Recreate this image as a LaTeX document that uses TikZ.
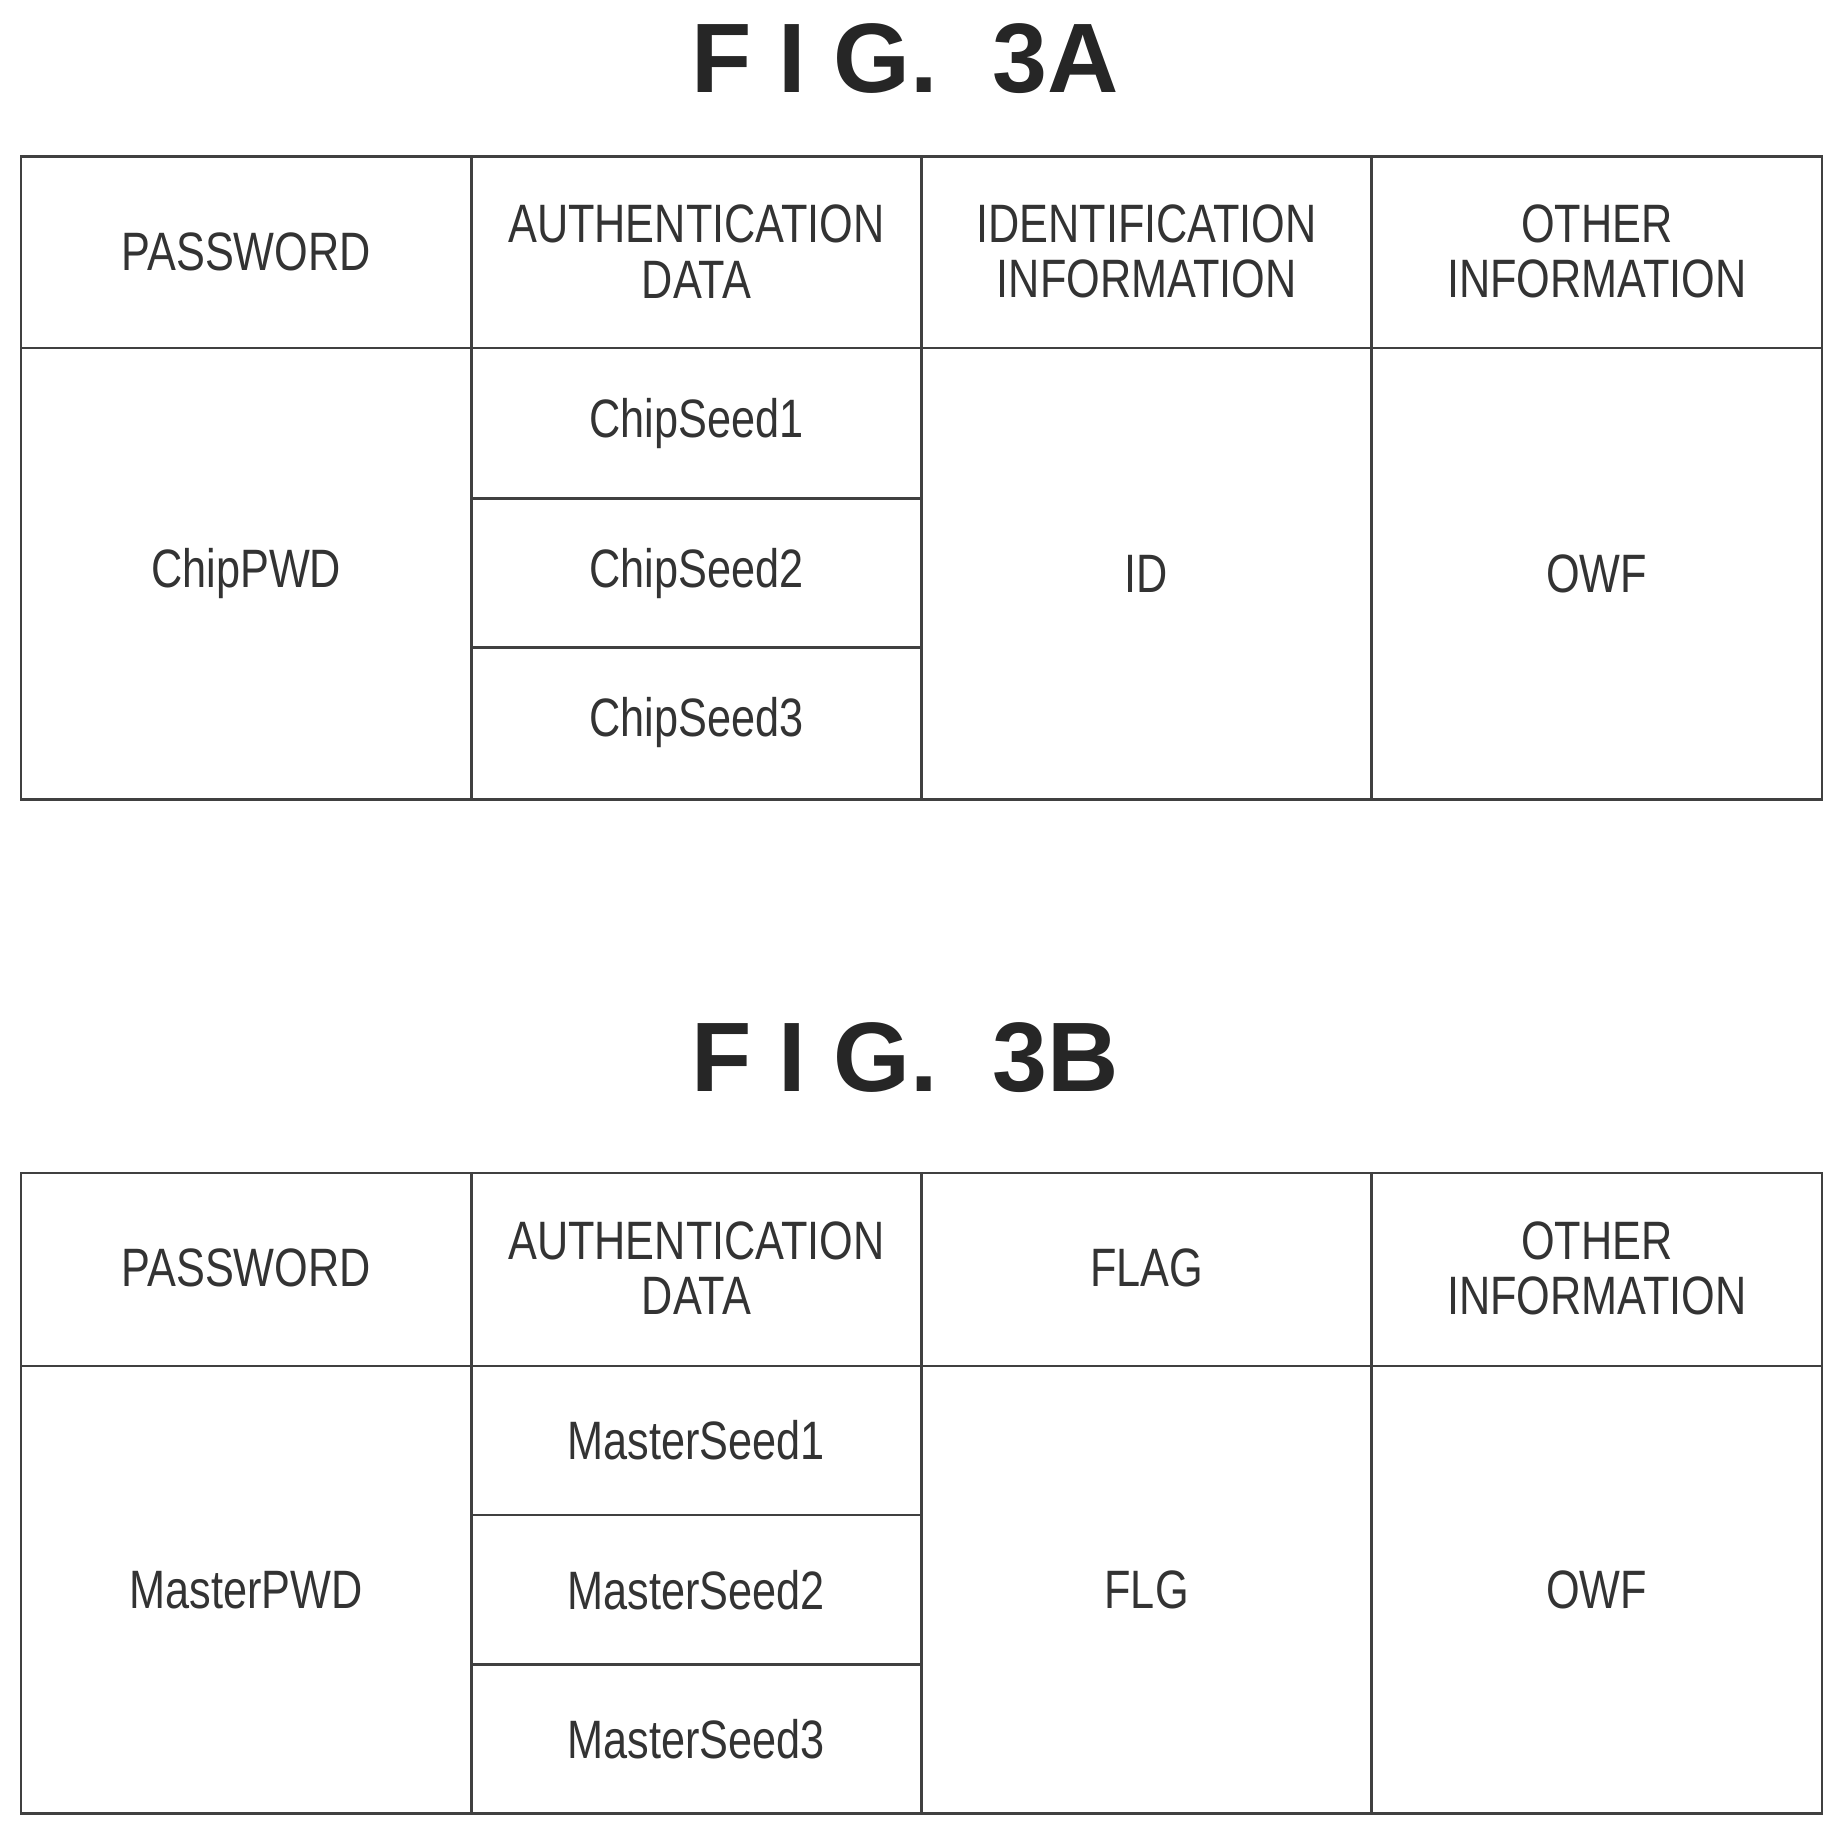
\documentclass[tikz,border=0pt]{standalone}
\usepackage{fontspec}
\setmainfont{Liberation Sans}
\usetikzlibrary{positioning}

\begin{document}
\begin{tikzpicture}[%
		x=1pt, y=-1pt,
		grid/.style={
			draw=black!75,
			line width=2.2pt
		},
		celltext/.style={
			align=center,
			font=\fontsize{46}{47}\selectfont,
			text=black!80,
			xscale=0.8,
			transform shape
		},
		figtitle/.style={
			font=\fontsize{84}{84}\selectfont\bfseries,
			text=black!85
		}]

		\useasboundingbox (0,0) rectangle (1568,1563);

		% FIG. 3A

		\node (titleA) [figtitle] at (770,50) {F I G.\ \ 3A};

		\draw[grid] (18,133) rectangle (1550,680);
		\draw[grid] (18,296) -- (1550,296);
		\draw[grid] (401,133) -- (401,680);
		\draw[grid] (784,133) -- (784,680);
		\draw[grid] (1167,133) -- (1167,680);
		\draw[grid] (401,424) -- (784,424);
		\draw[grid] (401,551) -- (784,551);

		\node (pwdA) [celltext] at (209.5,214) {PASSWORD};
		\node (authA) [celltext] at (592.5,214) {AUTHENTICATION\\DATA};
		\node (identA) [celltext] at (975.5,214) {IDENTIFICATION\\INFORMATION};
		\node (otherA) [celltext] at (1358.5,214) {OTHER\\INFORMATION};

		\node (chippwd) [celltext] at (209.5,488) {ChipPWD};
		\node (seedA1) [celltext] at (592.5,360) {ChipSeed1};
		\node (seedA2) [celltext] at (592.5,488) {ChipSeed2};
		\node (seedA3) [celltext] at (592.5,615) {ChipSeed3};
		\node (id) [celltext] at (975.5,488) {ID};
		\node (owfA) [celltext] at (1358.5,488) {OWF};

		% FIG. 3B

		\node (titleB) [figtitle] at (770,900) {F I G.\ \ 3B};

		\draw[grid] (18,998) rectangle (1550,1543);
		\draw[grid] (18,1162) -- (1550,1162);
		\draw[grid] (401,998) -- (401,1543);
		\draw[grid] (784,998) -- (784,1543);
		\draw[grid] (1167,998) -- (1167,1543);
		\draw[grid] (401,1289) -- (784,1289);
		\draw[grid] (401,1416) -- (784,1416);

		\node (pwdB) [celltext] at (209.5,1079) {PASSWORD};
		\node (authB) [celltext] at (592.5,1079) {AUTHENTICATION\\DATA};
		\node (flag) [celltext] at (975.5,1079) {FLAG};
		\node (otherB) [celltext] at (1358.5,1079) {OTHER\\INFORMATION};

		\node (masterpwd) [celltext] at (209.5,1353) {MasterPWD};
		\node (seedB1) [celltext] at (592.5,1225) {MasterSeed1};
		\node (seedB2) [celltext] at (592.5,1353) {MasterSeed2};
		\node (seedB3) [celltext] at (592.5,1480) {MasterSeed3};
		\node (flg) [celltext] at (975.5,1353) {FLG};
		\node (owfB) [celltext] at (1358.5,1353) {OWF};
\end{tikzpicture}
\end{document}
